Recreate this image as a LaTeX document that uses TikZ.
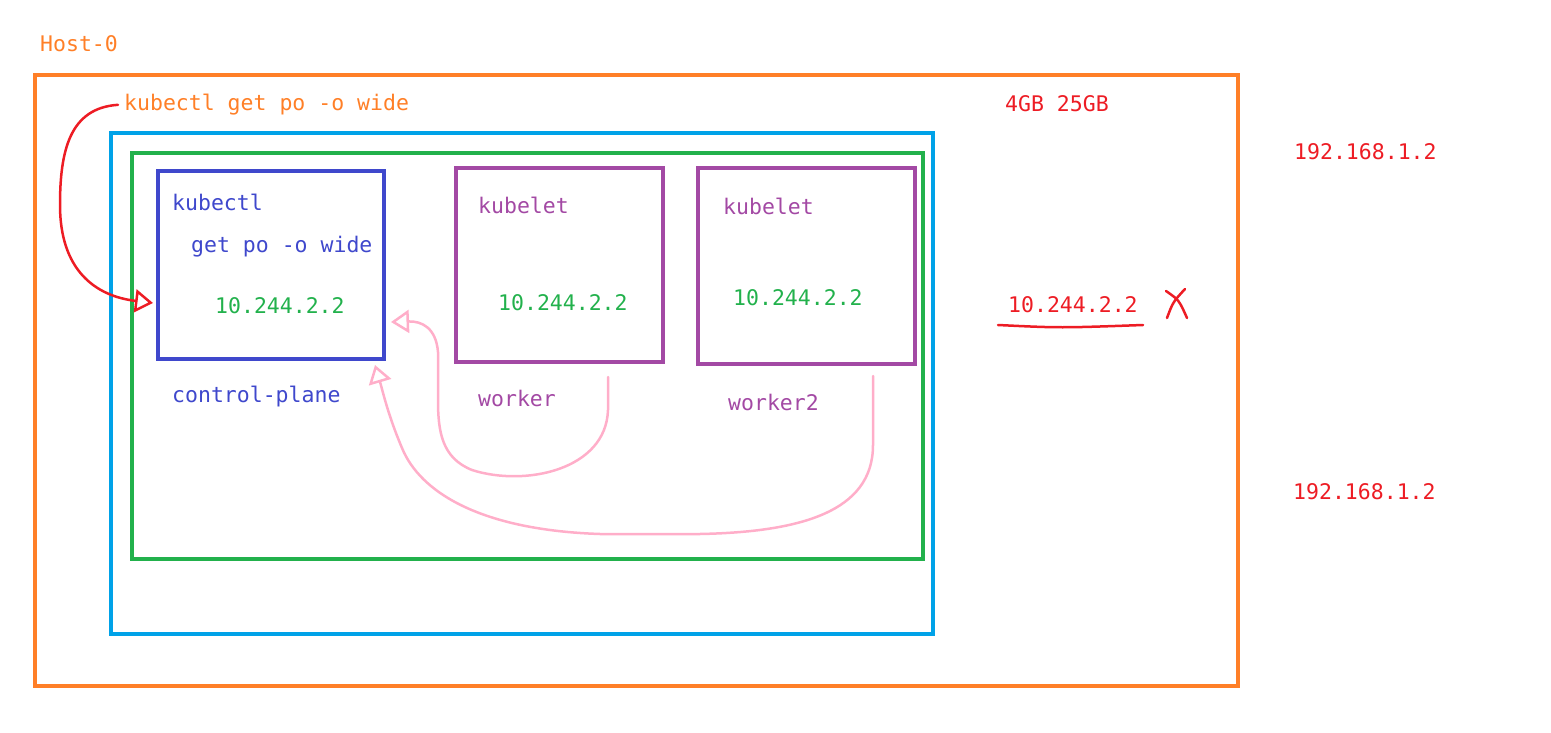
\documentclass[tikz,border=0pt]{standalone}
\usepackage{fontspec}
\setmainfont{DejaVu Sans Mono}
\usetikzlibrary{arrows.meta,calc,positioning}

\definecolor{hostorange}{HTML}{FF7F27}
\definecolor{kindblue}{HTML}{00A2E8}
\definecolor{nodegreen}{HTML}{22B14C}
\definecolor{planeblue}{HTML}{3F48CC}
\definecolor{workerpurple}{HTML}{A349A4}
\definecolor{markred}{HTML}{ED1C24}
\definecolor{replypink}{HTML}{FFAEC9}

\begin{document}
\begin{tikzpicture}
[
                  x =  1pt,
                  y = -1pt,
               >= {Triangle[open,length=18pt,width=23pt]},
        font = \fontsize{21.5}{25}\selectfont,
      box/.style = { draw, rectangle, line width=4pt, inner sep=0pt, outer sep=0pt },
    label/.style = { draw=none, fill=none, anchor=mid west, inner sep=0pt, yshift=-5pt },
   redpen/.style = { draw=markred, line width=2.5pt, line cap=round, line join=round },
  pinkpen/.style = { draw=replypink, line width=2.5pt, line cap=round, line join=round, -> }
]

    \useasboundingbox (0,0) rectangle (1551,733);

    \node (HostBox)         at (636.5, 380.5) [box, draw=hostorange,   minimum width=1203pt, minimum height=611pt] {};
    \node (KindBox)         at (522, 383.5)   [box, draw=kindblue,     minimum width=822pt,  minimum height=501pt] {};
    \node (NodesBox)        at (527.5, 356)   [box, draw=nodegreen,    minimum width=791pt,  minimum height=406pt] {};
    \node (ControlPlaneBox) at (271, 265)     [box, draw=planeblue,    minimum width=226pt,  minimum height=188pt] {};
    \node (WorkerBox)       at (559.5, 265)   [box, draw=workerpurple, minimum width=207pt,  minimum height=194pt] {};
    \node (WorkerTwoBox)    at (806.5, 266)   [box, draw=workerpurple, minimum width=217pt,  minimum height=196pt] {};

    \node (HostLabel)         at (40, 44)    [label, text=hostorange]   {Host-0};
    \node (CommandLabel)      at (124, 103)  [label, text=hostorange]   {kubectl get po -o wide};
    \node (MemoryLabel)       at (1005, 104) [label, text=markred]      {4GB 25GB};
    \node (HostIpLabel)       at (1294, 152) [label, text=markred]      {192.168.1.2};
    \node (HostIpTwoLabel)    at (1293, 492) [label, text=markred]      {192.168.1.2};
    \node (PodIpOutsideLabel) at (1008, 305) [label, text=markred]      {10.244.2.2};

    \node (KubectlLabel)      at (172, 203)  [label, text=planeblue]    {kubectl};
    \node (ArgsLabel)         at (191, 245)  [label, text=planeblue]    {get po -o wide};
    \node (PodIpPlaneLabel)   at (215, 306)  [label, text=nodegreen]    {10.244.2.2};
    \node (PlaneLabel)        at (172, 395)  [label, text=planeblue]    {control-plane};

    \node (KubeletLabel)      at (478, 206)  [label, text=workerpurple] {kubelet};
    \node (PodIpWorkerLabel)  at (498, 303)  [label, text=nodegreen]    {10.244.2.2};
    \node (WorkerLabel)       at (478, 399)  [label, text=workerpurple] {worker};

    \node (KubeletTwoLabel)   at (723, 207)  [label, text=workerpurple] {kubelet};
    \node (PodIpWorkerTwoLabel) at (733, 298) [label, text=nodegreen]   {10.244.2.2};
    \node (WorkerTwoLabel)    at (728, 403)  [label, text=workerpurple] {worker2};

    \coordinate (WorkerOut)    at (608, 377);
    \coordinate (WorkerTwoOut) at (873, 376);

    % command goes into the control-plane
    \draw [redpen, ->] ([xshift=-6pt]CommandLabel.west)
        .. controls (70,108) and (60,150) .. (60,205)
        .. controls (60,270) and (95,296) .. ($(ControlPlaneBox.west)+(-5,38)$);

    % replies back from the workers
    \draw [pinkpen] (WorkerOut) -- (608,410)
        .. controls (606,470) and (525,487) .. (472,470)
        .. controls (442,458) and (438,432) .. (438,400) -- (438,352)
        .. controls (436,328) and (422,321) .. ($(ControlPlaneBox.east)+(7,57)$);
    \draw [pinkpen] (WorkerTwoOut) -- (873,445)
        .. controls (873,512) and (800,532) .. (700,534) -- (600,534)
        .. controls (480,530) and (420,492) .. (402,448)
        .. controls (388,415) and (383,392) .. ($(ControlPlaneBox.south east)+(-9,6)$);

    % not reachable from the host
    \draw [redpen] (998,325) .. controls (1060,328) .. (1143,325);
    \draw [redpen] (1166,291) .. controls (1179,300) .. (1187,318);
    \draw [redpen] (1185,289) .. controls (1173,302) .. (1167,318);

\end{tikzpicture}
\end{document}
